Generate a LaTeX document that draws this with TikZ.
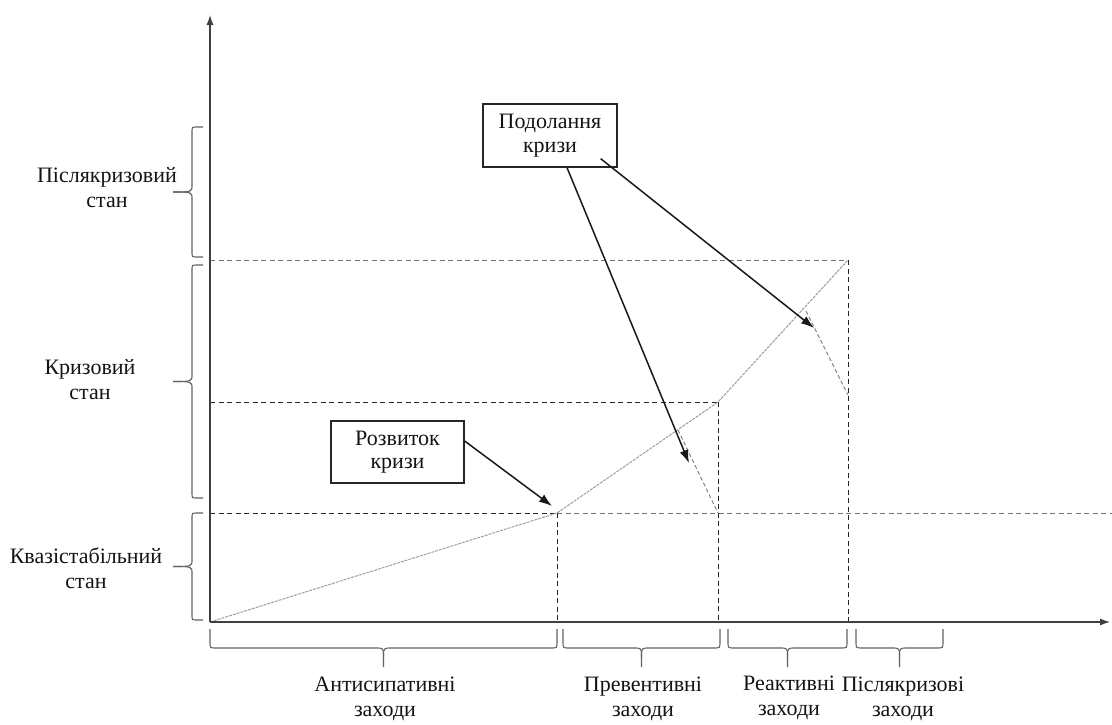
\documentclass[tikz,border=0pt]{standalone}
\usepackage{fontspec}
\setmainfont{Liberation Serif}
\usetikzlibrary{arrows.meta,calc}
\newcommand\leftbrc[2]{% #1 top y, #2 bottom y
  \draw[brc] (203,#1) -- (197,#1) .. controls (192,#1) .. (192,{#1+5}) -- (192,{(#1+#2)/2-7}) .. controls (192,{(#1+#2)/2}) .. (173,{(#1+#2)/2});
  \draw[brc] (203,#2) -- (197,#2) .. controls (192,#2) .. (192,{#2-5}) -- (192,{(#1+#2)/2+7}) .. controls (192,{(#1+#2)/2}) .. (173,{(#1+#2)/2});
}
\newcommand\bottombrc[2]{% #1 left x, #2 right x
  \draw[brc] (#1,629) -- (#1,642) .. controls (#1,648) .. ({#1+6},648) -- ({(#1+#2)/2-8},648) .. controls ({(#1+#2)/2},648) .. ({(#1+#2)/2},657) -- ({(#1+#2)/2},667);
  \draw[brc] (#2,629) -- (#2,642) .. controls (#2,648) .. ({#2-6},648) -- ({(#1+#2)/2+8},648) .. controls ({(#1+#2)/2},648) .. ({(#1+#2)/2},657);
}
\begin{document}
\begin{tikzpicture}[x=1pt,y=-1pt,
  lbl/.style={align=center,font=\fontsize{22}{25}\selectfont,text=black!92,inner sep=0pt},
  boxnode/.style={draw=black!85,line width=1.3pt,align=center,font=\fontsize{22}{23.5}\selectfont,text=black!92,minimum width=133pt,minimum height=62pt,inner sep=0pt},
  axis/.style={draw=black!75,line width=1.1pt,-{Latex[length=10pt,width=7pt]}},
  ptr/.style={draw=black!90,line width=1.5pt,-{Latex[length=13pt,width=9pt]}},
  brc/.style={draw=black!62,line width=1.1pt},
  guide/.style={draw=black!85,line width=0.9pt,dash pattern=on 5pt off 3.5pt},
  lguide/.style={draw=black!55,line width=0.8pt,dash pattern=on 5pt off 3.5pt},
  curve/.style={draw=black!38,line width=1pt,dash pattern=on 3pt off 1pt},
  decline/.style={draw=black!48,line width=1pt,dash pattern=on 4pt off 2.5pt}
]
\useasboundingbox (0,0) rectangle (1112,724);

% key coordinates
\coordinate (O) at (210,622);
\coordinate (ytop) at (210,15);
\coordinate (xend) at (1110,622);
\coordinate (p1) at (557,513);
\coordinate (p2) at (718,402);
\coordinate (p3) at (848,260);
\coordinate (d1s) at (678,430);
\coordinate (d1e) at (718,513);
\coordinate (d2s) at (806,311);
\coordinate (d2e) at (848,395);
\coordinate (t0) at (552,506);
\coordinate (t1) at (689,463);
\coordinate (t2) at (814,328);

% guide lines
\draw[lguide] (210,260) -- (p3);
\draw[guide] (210,402) -- (p2);
\draw[guide] (210,513) -- (p1);
\draw[lguide] (p1) -- (1112,513);
\draw[guide] (p1) -- (557,622);
\draw[guide] (p2) -- (718,622);
\draw[guide] (p3) -- (848,622);

% curve
\draw[curve] (O) -- (p1) -- (p2) -- (p3);
\draw[decline] (d1s) -- (d1e);
\draw[decline] (d2s) -- (d2e);

% axes
\draw[axis] (O) -- (ytop);
\draw[axis] (O) -- (xend);

% boxes
\node[boxnode] (rk) at (397.5,452) {Розвиток\\кризи};
\node[boxnode, minimum width=134pt, minimum height=63pt] (pk) at (550,135.5) {Подолання\\кризи};

\draw[ptr] ([yshift=11pt]rk.east) -- (t0);
\draw[ptr] ([xshift=17pt]pk.south) -- (t1);
\draw[ptr] ([xshift=-17pt,yshift=9pt]pk.south east) -- (t2);

% left braces
\leftbrc{127}{257}
\leftbrc{265}{498}
\leftbrc{513}{620}
\node[lbl] (s1) at (107,188) {Післякризовий\\стан};
\node[lbl] (s2) at (90,380) {Кризовий\\стан};
\node[lbl] (s3) at (86,568) {Квазістабільний\\стан};

% bottom braces
\bottombrc{210}{557}
\bottombrc{563}{720}
\bottombrc{728}{847}
\bottombrc{856}{943}
\node[lbl] (m1) at (385,699) {Антисипативні\\заходи};
\node[lbl] (m2) at (643,699) {Превентивні\\заходи};
\node[lbl] (m3) at (789,698) {Реактивні\\заходи};
\node[lbl] (m4) at (903,699) {Післякризові\\заходи};
\end{tikzpicture}
\end{document}
